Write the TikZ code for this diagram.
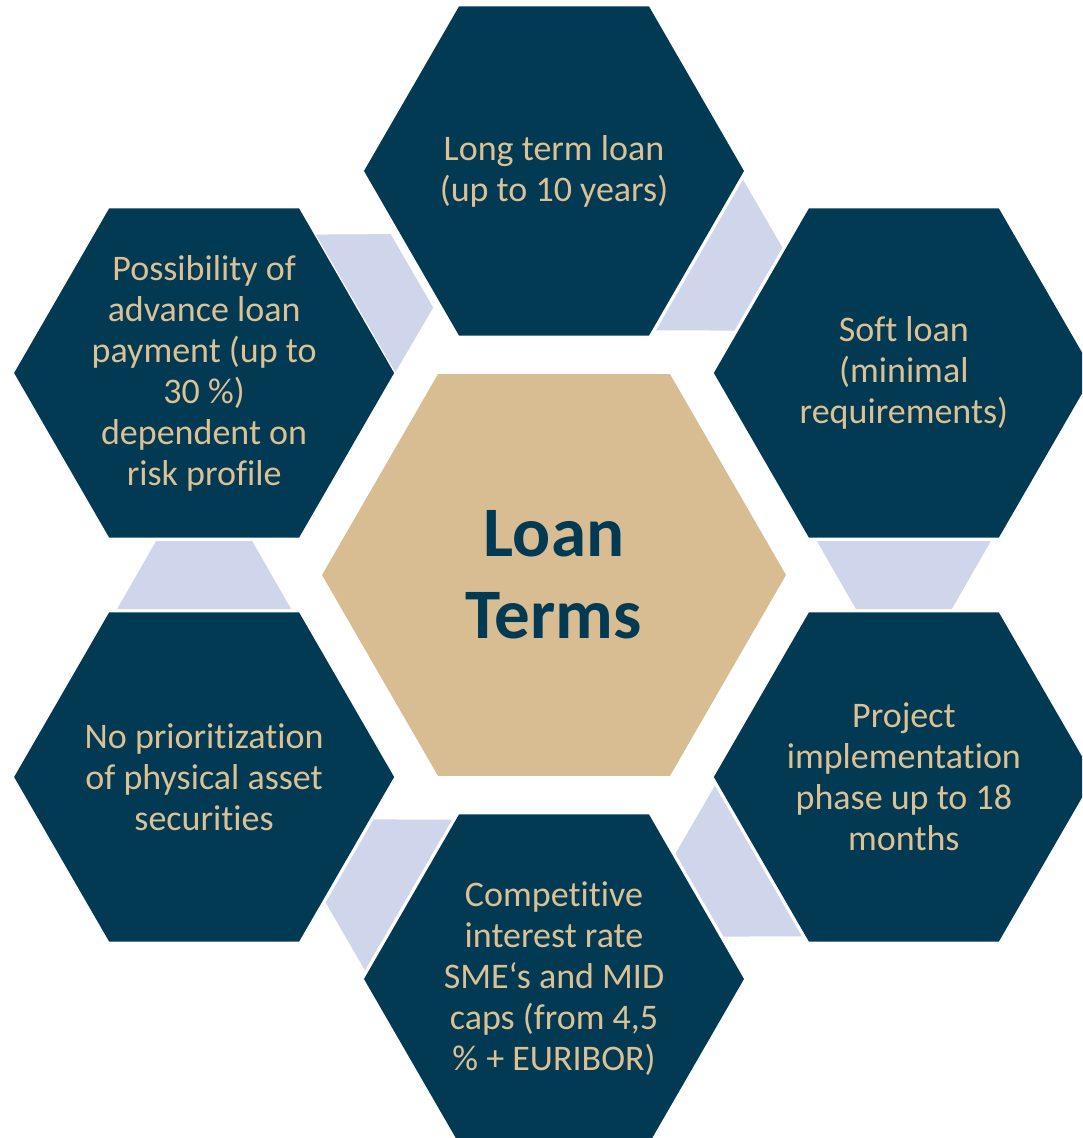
\documentclass[tikz,border=0pt]{standalone}
\usepackage{fontspec}
\setmainfont{Carlito}[Ligatures={TeX,NoCommon}]
\usepackage{tikz}
\usetikzlibrary{shapes.geometric,calc}

\definecolor{navy}{RGB}{2,58,84}
\definecolor{sand}{RGB}{215,189,145}
\definecolor{sandtext}{RGB}{219,193,148}
\definecolor{lavender}{RGB}{207,213,234}

\begin{document}
\begin{tikzpicture}[
    x=1pt, y=1pt,
    core/.style={
        regular polygon, regular polygon sides=6,
        minimum size=464pt, inner sep=0pt, fill=sand,
        text=navy, align=center,
        font=\fontsize{71}{82}\selectfont\bfseries
    },
    cell/.style={
        regular polygon, regular polygon sides=6,
        minimum size=380pt, inner sep=0pt, fill=navy
    },
    celltext/.style={
        align=center, text=sandtext, inner sep=0pt,
        font=\fontsize{36}{41}\selectfont
    },
    link/.style={fill=lavender}
]
\clip (-554,-563) rectangle (528,575);

% Centre
\node[core] (terms) at (0,0) {Loan\\Terms};

% Ring of six terms
\node[cell] (long)    at (90:404)  {};
\node[cell] (soft)    at (30:404)  {};
\node[cell] (phase)   at (-30:404) {};
\node[cell] (rate)    at (-90:404) {};
\node[cell] (asset)   at (210:404) {};
\node[cell] (advance) at (150:404) {};

\node[celltext] (long-t)    at (long)    {Long term loan\\(up to 10 years)};
\node[celltext] (soft-t)    at (soft)    {Soft loan\\(minimal\\requirements)};
\node[celltext] (phase-t)   at (phase)   {Project\\implementation\\phase up to 18\\months};
\node[celltext] (rate-t)    at (rate)    {Competitive\\interest rate\\SME‘s and MID\\caps (from 4,5\\\% + EURIBOR)};
\node[celltext] (asset-t)   at (asset)   {No prioritization\\of physical asset\\securities};
\node[celltext] (advance-t) at (advance) {Possibility of\\advance loan\\payment (up to\\30 \%)\\dependent on\\risk profile};

% Trapezoids in the gaps, wide end at the first cell
\fill[link, shift={($(long)!0.5!(soft)$)}, rotate=-30]
    (-34,87) -- (34,48) -- (34,-48) -- (-34,-87) -- cycle;
\fill[link, shift={($(soft)!0.5!(phase)$)}, rotate=-90]
    (-34,87) -- (34,48) -- (34,-48) -- (-34,-87) -- cycle;
\fill[link, shift={($(phase)!0.5!(rate)$)}, rotate=-150]
    (-34,87) -- (34,48) -- (34,-48) -- (-34,-87) -- cycle;
\fill[link, shift={($(rate)!0.5!(asset)$)}, rotate=150]
    (-34,87) -- (34,48) -- (34,-48) -- (-34,-87) -- cycle;
\fill[link, shift={($(asset)!0.5!(advance)$)}, rotate=90]
    (-34,87) -- (34,48) -- (34,-48) -- (-34,-87) -- cycle;
% this one sits a bit lower and is shorter
\fill[link, shift={($(advance)!0.5!(long)$)}, rotate=30]
    (-36,64) -- (29,27) -- (29,-58) -- (-36,-95) -- cycle;

\end{tikzpicture}
\end{document}
